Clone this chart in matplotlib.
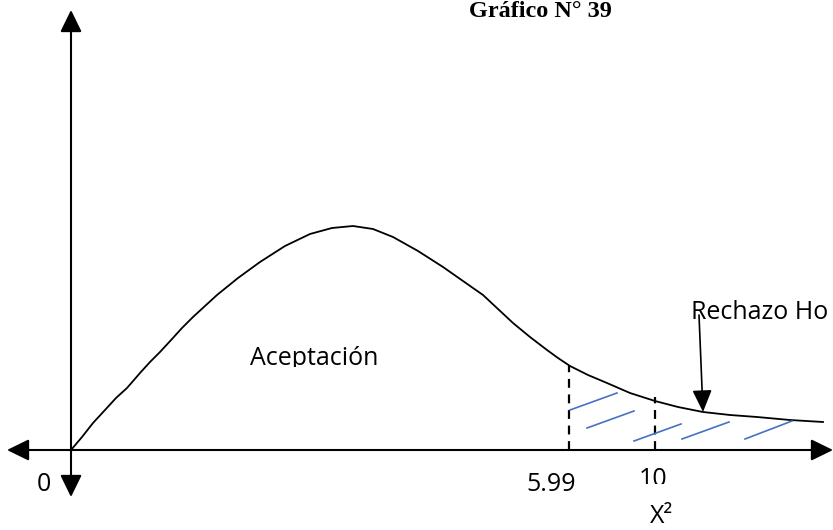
import matplotlib
matplotlib.use('agg')
import matplotlib.pyplot as plt
from matplotlib.transforms import Bbox

# Hand-drawn chi-square sketch.
# x: horizontal position, h: height above the horizontal axis (same units)
curve_x = [71, 82, 93, 105, 116, 127, 140, 150, 160, 172, 182, 193, 205,
           217, 238, 260, 285, 310, 332, 353, 373, 393, 418, 443, 463, 483,
           498, 513, 530, 547, 558, 570, 588, 607, 630, 655, 678, 703, 730,
           757, 790, 823]
curve_h = [0, 13, 27, 40, 52, 62, 77, 88, 98, 111, 122, 133, 144,
           155, 172, 188, 204, 216, 222, 224, 221, 213, 199, 183, 169, 155,
           141, 127, 113, 100, 92, 84, 75, 67, 57, 49, 43, 38, 35,
           33, 30, 28]

crit_x = [569, 655]          # dashed lines at 5.99 and 10
crit_h = [85, 53]
crit_labels = ["5.99", "10"]

hatch_x0 = [570, 587, 634, 682, 745]
hatch_h0 = [40, 22, 9, 11, 11]
hatch_x1 = [617, 634, 681, 729, 792]
hatch_h1 = [57, 39, 26, 28, 29]

title = "Gráfico N° 39"
accept_label = "Aceptación"
reject_label = "Rechazo Ho"
axis_label = "X²"

fig = plt.figure(figsize=(8.33, 5.30), dpi=100)
ax = fig.add_axes([0, 0, 1, 1])
ax.set_xlim(0, 833)
ax.set_ylim(-80, 450)
ax.axis('off')

arrow_kw = dict(arrowstyle='<|-|>,head_length=0.45,head_width=0.22',
                color='black', lw=1.5, mutation_scale=30,
                shrinkA=0, shrinkB=0)
# axes with arrows at both ends
ax.annotate('', xy=(7, 0), xytext=(833, 0), arrowprops=arrow_kw)
ax.annotate('', xy=(71, 440), xytext=(71, -47), arrowprops=arrow_kw)

ax.plot(curve_x, curve_h, color='black', lw=1.3, solid_joinstyle='round')

for x, h in zip(crit_x, crit_h):
    ax.plot([x, x], [0, h], color='black', lw=1.6, dashes=(4, 3))

for x0, h0, x1, h1 in zip(hatch_x0, hatch_h0, hatch_x1, hatch_h1):
    ax.plot([x0, x1], [h0, h1], color='#4472C4', lw=1.2)

ax.annotate('', xy=(703, 38), xytext=(699, 135),
            arrowprops=dict(arrowstyle='-|>,head_length=0.45,head_width=0.2',
                            color='black', lw=1.2, mutation_scale=30,
                            shrinkA=0, shrinkB=0))

ax.text(540, 433, title, family='Liberation Serif', weight='bold',
        fontsize=17.5, ha='center', va='baseline')


def clipped(t, bottom_px):
    # the original text boxes cut their text off at the bottom
    t.set_clip_box(Bbox.from_extents(0, 530 - bottom_px, 833, 530))
    t.set_clip_on(True)


font = 'Open Sans'
fs = 18
t = ax.text(250, 85, accept_label, family=font, fontsize=fs, va='baseline')
clipped(t, 367)
ax.text(691, 131, reject_label, family=font, fontsize=fs, va='baseline')
ax.text(44, -41, "0", family=font, fontsize=fs, ha='center', va='baseline')
ax.text(551, -41, crit_labels[0], family=font, fontsize=fs,
        ha='center', va='baseline')
t = ax.text(653, -36, crit_labels[1], family=font, fontsize=fs,
            ha='center', va='baseline')
clipped(t, 484)
ax.text(662, -73, axis_label, family=font, fontsize=18, ha='center',
        va='baseline')

fig.savefig('out.png', dpi=100)
